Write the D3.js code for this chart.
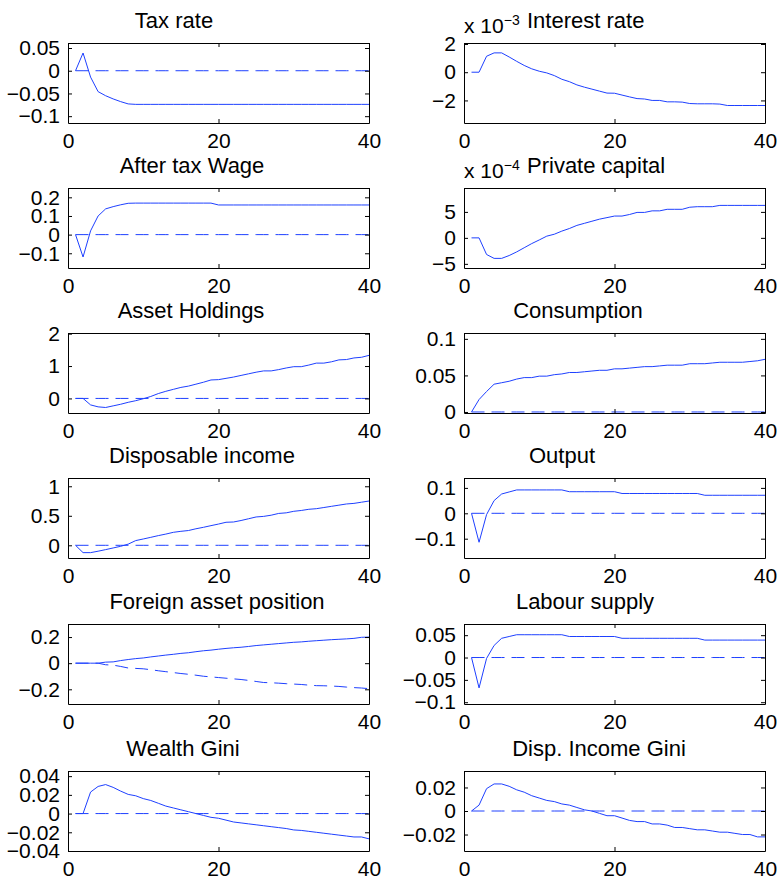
<!DOCTYPE html>
<html>
<head>
<meta charset="utf-8">
<script src="https://cdn.jsdelivr.net/npm/d3@7"></script>
<style>
  body { margin: 0; background: #fff; }
  svg { display: block; }
</style>
</head>
<body>
<svg id="fig"></svg>
<script>
// ---------- data ----------
const periods = d3.range(1, 41);
const xTicks = [0, 20, 40];
const xLimits = [0, 40];

const taxRate = [0, 0.039, -0.014, -0.046, -0.055, -0.062, -0.068, -0.073, -0.074, -0.074,
  -0.074, -0.074, -0.074, -0.074, -0.074, -0.074, -0.074, -0.074, -0.074, -0.074,
  -0.074, -0.074, -0.074, -0.074, -0.074, -0.074, -0.074, -0.074, -0.074, -0.074,
  -0.074, -0.074, -0.074, -0.074, -0.074, -0.074, -0.074, -0.074, -0.074, -0.074];
const taxTicks = [-0.1, -0.05, 0, 0.05];
const taxLimits = [-0.115, 0.061];

// x 10^-3
const interestRate = [0, 0, 1.13, 1.37, 1.37, 1.08, 0.77, 0.48, 0.24, 0.07,
  -0.05, -0.24, -0.5, -0.67, -0.9, -1.06, -1.2, -1.34, -1.48, -1.49,
  -1.62, -1.75, -1.87, -1.9, -2.0, -2.0, -2.1, -2.1, -2.12, -2.22,
  -2.24, -2.24, -2.24, -2.26, -2.36, -2.36, -2.36, -2.36, -2.36, -2.36];
const interestTicks = [-2, 0, 2];
const interestLimits = [-3.6, 2.07];

const wage = [0, -0.12, 0.02, 0.1, 0.138, 0.15, 0.16, 0.168, 0.169, 0.169,
  0.169, 0.169, 0.169, 0.169, 0.169, 0.169, 0.169, 0.169, 0.169, 0.159,
  0.159, 0.159, 0.159, 0.159, 0.159, 0.159, 0.159, 0.159, 0.159, 0.159,
  0.159, 0.159, 0.159, 0.159, 0.159, 0.159, 0.159, 0.159, 0.159, 0.159];
const wageTicks = [-0.1, 0, 0.1, 0.2];
const wageLimits = [-0.179, 0.25];

// x 10^-4
const privateCapital = [0, 0, -3.2, -3.95, -3.95, -3.4, -2.7, -1.9, -1.1, -0.4,
  0.33, 0.7, 1.3, 1.8, 2.4, 2.8, 3.2, 3.6, 3.9, 4.2,
  4.2, 4.5, 4.9, 4.9, 5.2, 5.2, 5.5, 5.5, 5.5, 5.9,
  6.0, 6.0, 6.0, 6.25, 6.25, 6.25, 6.25, 6.25, 6.25, 6.25];
const capitalTicks = [-5, 0, 5];
const capitalLimits = [-5.8, 9.6];

const assetHoldings = [0, 0, -0.2, -0.26, -0.28, -0.23, -0.18, -0.12, -0.07, -0.01,
  0.06, 0.15, 0.22, 0.28, 0.34, 0.38, 0.44, 0.5, 0.57, 0.58,
  0.62, 0.66, 0.71, 0.76, 0.81, 0.85, 0.85, 0.89, 0.94, 0.98,
  0.98, 1.03, 1.09, 1.09, 1.13, 1.19, 1.2, 1.25, 1.27, 1.33];
const assetTicks = [0, 1, 2];
const assetLimits = [-0.45, 2.02];

const consumption = [0, 0.017, 0.028, 0.038, 0.04, 0.042, 0.045, 0.047, 0.047, 0.049,
  0.049, 0.051, 0.052, 0.054, 0.054, 0.055, 0.056, 0.057, 0.057, 0.059,
  0.059, 0.06, 0.061, 0.062, 0.062, 0.063, 0.064, 0.064, 0.064, 0.066,
  0.066, 0.066, 0.067, 0.068, 0.068, 0.068, 0.068, 0.069, 0.07, 0.072];
const consumptionTicks = [0, 0.05, 0.1];
const consumptionLimits = [-0.0014, 0.108];

const dispIncome = [0, -0.124, -0.124, -0.1, -0.073, -0.045, -0.017, 0.02, 0.08, 0.107,
  0.135, 0.164, 0.19, 0.22, 0.237, 0.25, 0.28, 0.305, 0.333, 0.36,
  0.39, 0.395, 0.42, 0.45, 0.48, 0.49, 0.51, 0.54, 0.55, 0.576,
  0.59, 0.61, 0.62, 0.64, 0.66, 0.68, 0.7, 0.71, 0.73, 0.75];
const dispIncomeTicks = [0, 0.5, 1];
const dispIncomeLimits = [-0.215, 1.14];

const output = [0, -0.114, -0.005, 0.05, 0.076, 0.084, 0.092, 0.092, 0.092, 0.092,
  0.092, 0.092, 0.092, 0.085, 0.085, 0.085, 0.085, 0.085, 0.085, 0.085,
  0.078, 0.078, 0.078, 0.078, 0.078, 0.078, 0.078, 0.078, 0.078, 0.078,
  0.078, 0.071, 0.071, 0.071, 0.071, 0.071, 0.071, 0.071, 0.071, 0.071];
const outputTicks = [-0.1, 0, 0.1];
const outputLimits = [-0.176, 0.139];

const foreignAssets = [0, 0, 0, 0, 0.008, 0.01, 0.02, 0.028, 0.035, 0.04,
  0.048, 0.055, 0.062, 0.068, 0.075, 0.08, 0.088, 0.095, 0.1, 0.107,
  0.113, 0.118, 0.122, 0.128, 0.135, 0.14, 0.145, 0.15, 0.155, 0.16,
  0.163, 0.168, 0.172, 0.176, 0.18, 0.183, 0.186, 0.19, 0.198, 0.2];
const foreignAssetsAlt = [0, 0, 0, 0, -0.012, -0.015, -0.025, -0.037, -0.04, -0.043,
  -0.05, -0.058, -0.065, -0.072, -0.079, -0.085, -0.092, -0.1, -0.105, -0.11,
  -0.115, -0.12, -0.125, -0.132, -0.14, -0.148, -0.15, -0.153, -0.157, -0.16,
  -0.163, -0.168, -0.172, -0.173, -0.175, -0.178, -0.183, -0.187, -0.19, -0.195];
const foreignTicks = [-0.2, 0, 0.2];
const foreignLimits = [-0.3125, 0.3];

const labour = [0, -0.068, -0.002, 0.027, 0.043, 0.047, 0.051, 0.051, 0.051, 0.051,
  0.051, 0.051, 0.051, 0.047, 0.047, 0.047, 0.047, 0.047, 0.047, 0.047,
  0.043, 0.043, 0.043, 0.043, 0.043, 0.043, 0.043, 0.043, 0.043, 0.043,
  0.043, 0.039, 0.039, 0.039, 0.039, 0.039, 0.039, 0.039, 0.039, 0.039];
const labourTicks = [-0.1, -0.05, 0, 0.05];
const labourLimits = [-0.104, 0.075];

const wealthGini = [0, 0, 0.023, 0.029, 0.031, 0.028, 0.024, 0.0205, 0.019, 0.016,
  0.014, 0.011, 0.008, 0.006, 0.004, 0.002, 0, -0.002, -0.004, -0.005,
  -0.007, -0.009, -0.01, -0.011, -0.012, -0.013, -0.014, -0.015, -0.016, -0.0175,
  -0.018, -0.019, -0.02, -0.021, -0.022, -0.023, -0.024, -0.025, -0.025, -0.027];
const wealthGiniTicks = [-0.04, -0.02, 0, 0.02, 0.04];
const wealthGiniLimits = [-0.04, 0.0455];

const dispGini = [0, 0.005, 0.019, 0.023, 0.023, 0.021, 0.018, 0.016, 0.013, 0.011,
  0.009, 0.008, 0.006, 0.005, 0.003, 0.001, 0, -0.002, -0.004, -0.004,
  -0.006, -0.008, -0.009, -0.009, -0.011, -0.011, -0.012, -0.014, -0.014, -0.015,
  -0.016, -0.016, -0.017, -0.018, -0.018, -0.019, -0.02, -0.02, -0.022, -0.022];
const dispGiniTicks = [-0.02, 0, 0.02];
const dispGiniLimits = [-0.034, 0.034];

const zeros = periods.map(() => 0);

// panels, left column first then right, row by row
const panels = [
  { title: "Tax rate", main: taxRate, dashed: zeros, ticks: taxTicks, limits: taxLimits },
  { title: "Interest rate", exp: "\u22123", main: interestRate, ticks: interestTicks, limits: interestLimits },
  { title: "After tax Wage", main: wage, dashed: zeros, ticks: wageTicks, limits: wageLimits },
  { title: "Private capital", exp: "\u22124", main: privateCapital, ticks: capitalTicks, limits: capitalLimits },
  { title: "Asset Holdings", main: assetHoldings, dashed: zeros, ticks: assetTicks, limits: assetLimits },
  { title: "Consumption", main: consumption, dashed: zeros, ticks: consumptionTicks, limits: consumptionLimits },
  { title: "Disposable income", main: dispIncome, dashed: zeros, ticks: dispIncomeTicks, limits: dispIncomeLimits },
  { title: "Output", main: output, dashed: zeros, ticks: outputTicks, limits: outputLimits },
  { title: "Foreign asset position", main: foreignAssets, dashed: foreignAssetsAlt, ticks: foreignTicks, limits: foreignLimits },
  { title: "Labour supply", main: labour, dashed: zeros, ticks: labourTicks, limits: labourLimits },
  { title: "Wealth Gini", main: wealthGini, dashed: zeros, ticks: wealthGiniTicks, limits: wealthGiniLimits },
  { title: "Disp. Income Gini", main: dispGini, dashed: zeros, ticks: dispGiniTicks, limits: dispGiniLimits },
];

// ---------- layout ----------
const W = 779, H = 880;
const colLeft = [68, 464];
const colWidth = 301;
const rowTop = [43, 188, 333, 478, 624, 771];
const rowHeight = 80;
// title centre, measured from the axes' left edge (titles are off-centre in the original)
const titleCenter = [106, 121, 124, 128, 123, 114, 134, 98, 149, 121, 115, 135];
const fontFamily = '"Liberation Sans", Arial, Helvetica, sans-serif';
const titleSize = 22;
const tickSize = 21;
const lineColor = "#1e40ff";
const fmt = d3.format("~g");

const svg = d3.select("#fig").attr("width", W).attr("height", H);

panels.forEach((p, i) => {
  const col = i % 2;
  const row = Math.floor(i / 2);
  const x0 = colLeft[col];
  const y0 = rowTop[row];

  const x = d3.scaleLinear().domain(xLimits).range([0, colWidth]);
  const y = d3.scaleLinear().domain(p.limits).range([rowHeight, 0]);

  const g = svg.append("g").attr("transform", "translate(" + x0 + "," + y0 + ")");

  const line = d3
    .line()
    .x((d) => x(d[0]))
    .y((d) => y(d[1]));

  if (p.dashed) {
    g.append("path")
      .datum(d3.zip(periods, p.dashed))
      .attr("d", line)
      .attr("fill", "none")
      .attr("stroke", lineColor)
      .attr("stroke-width", 1)
      .attr("stroke-dasharray", "13,7");
  }
  g.append("path")
    .datum(d3.zip(periods, p.main))
    .attr("d", line)
    .attr("fill", "none")
    .attr("stroke", lineColor)
    .attr("stroke-width", 1);

  // axes: ticks point inward, labels on left and bottom only
  const styleAxis = (sel) => {
    sel.attr("font-size", tickSize).attr("font-family", fontFamily);
    sel.selectAll("path, line").attr("stroke", "#000").attr("stroke-width", 1);
    sel.selectAll("text").attr("fill", "#000");
  };

  g.append("g")
    .call(d3.axisLeft(y).tickValues(p.ticks).tickFormat(fmt).tickSizeInner(-4).tickSizeOuter(0).tickPadding(8))
    .call(styleAxis);
  g.append("g")
    .attr("transform", "translate(" + colWidth + ",0)")
    .call(d3.axisRight(y).tickValues(p.ticks).tickFormat("").tickSizeInner(-4).tickSizeOuter(0))
    .call(styleAxis);
  g.append("g")
    .attr("transform", "translate(0," + rowHeight + ")")
    .call(d3.axisBottom(x).tickValues(xTicks).tickFormat(fmt).tickSizeInner(-4).tickSizeOuter(0).tickPadding(10))
    .call(styleAxis);
  g.append("g")
    .call(d3.axisTop(x).tickValues(xTicks).tickFormat("").tickSizeInner(-4).tickSizeOuter(0))
    .call(styleAxis);

  // title
  if (p.exp) {
    const lbl = g.append("text")
      .attr("x", 0)
      .attr("y", -10)
      .attr("font-family", fontFamily)
      .attr("font-size", tickSize);
    lbl.append("tspan").text("x 10");
    lbl.append("tspan").attr("dy", -8).attr("font-size", 14).text(p.exp);
    g.append("text")
      .attr("x", 63)
      .attr("y", -15)
      .attr("font-family", fontFamily)
      .attr("font-size", titleSize)
      .text(p.title);
  } else {
    g.append("text")
      .attr("x", titleCenter[i])
      .attr("y", -15)
      .attr("text-anchor", "middle")
      .attr("font-family", fontFamily)
      .attr("font-size", titleSize)
      .text(p.title);
  }
});
</script>
</body>
</html>
